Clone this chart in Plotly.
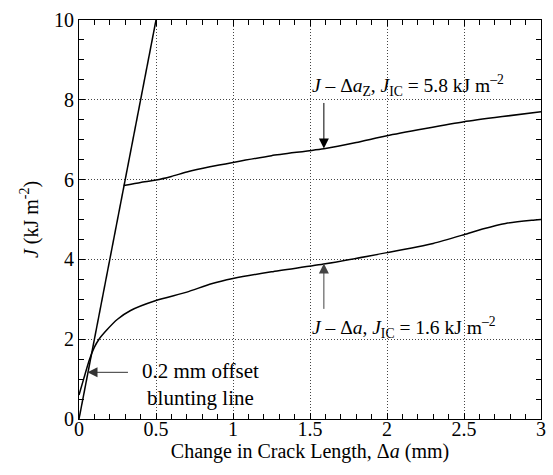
import plotly.graph_objects as go

# Blunting line
blunt_x = [0.0, 0.5]
blunt_y = [0.0, 10.0]

# J - Δa_Z curve
upper_x = [0.29, 0.4, 0.5, 0.6, 0.7, 0.85, 1.0, 1.25, 1.6, 1.8, 2.0, 2.25, 2.5, 2.75, 3.0]
upper_y = [5.85, 5.93, 5.99, 6.08, 6.19, 6.32, 6.43, 6.60, 6.78, 6.93, 7.10, 7.28, 7.45, 7.58, 7.70]

# J - Δa curve
lower_x = [0.0, 0.03, 0.068, 0.1, 0.13, 0.18, 0.25, 0.335, 0.5, 0.7, 0.86, 1.0, 1.25,
           1.6, 2.0, 2.3, 2.5, 2.62, 2.77, 2.94, 3.0]
lower_y = [0.6, 1.0, 1.49, 1.8, 2.0, 2.23, 2.5, 2.72, 2.97, 3.18, 3.39, 3.52, 3.69,
           3.89, 4.17, 4.40, 4.62, 4.76, 4.90, 4.98, 5.0]

x_ticks = [0, 0.5, 1, 1.5, 2, 2.5, 3]
x_ticklabels = ["0", "0.5", "1", "1.5", "2", "2.5", "3"]
y_ticks = [0, 2, 4, 6, 8, 10]
y_ticklabels = ["0", "2", "4", "6", "8", "10"]

FONT = "Liberation Serif"
line_style = dict(color="black", width=1.5)

fig = go.Figure()
fig.add_trace(go.Scatter(x=blunt_x, y=blunt_y, mode="lines", line=line_style, showlegend=False))
fig.add_trace(go.Scatter(x=upper_x, y=upper_y, mode="lines", line=dict(line_style, shape="spline", smoothing=0.6), showlegend=False))
fig.add_trace(go.Scatter(x=lower_x, y=lower_y, mode="lines", line=dict(line_style, shape="spline", smoothing=0.6), showlegend=False))

axis_common = dict(
    showline=True, linecolor="black", linewidth=1, mirror="allticks",
    ticks="inside", ticklen=6, tickcolor="black", tickwidth=1,
    showgrid=True, gridcolor="#444444", griddash="1px,2px", gridwidth=1,
    zeroline=False, tickfont=dict(family=FONT, size=20, color="black"),
)

fig.update_xaxes(
    range=[0, 3], tickvals=x_ticks, ticktext=x_ticklabels,
    minor=dict(dtick=0.1, ticks="inside", ticklen=5, tickcolor="black", showgrid=False),
    title=dict(text="Change in Crack Length, Δ<i>a</i> (mm)", font=dict(family=FONT, size=20, color="black"), standoff=0),
    ticklabelstandoff=-8,
    **axis_common,
)
fig.update_yaxes(
    range=[0, 10], tickvals=y_ticks, ticktext=y_ticklabels,
    minor=dict(dtick=0.5, ticks="inside", ticklen=5, tickcolor="black", showgrid=False),
    title=dict(text="<i>J</i> (kJ m<sup>-2</sup>)", font=dict(family=FONT, size=20, color="black"), standoff=10),
    **axis_common,
)

ann_font = dict(family=FONT, size=19.5, color="black")
fig.add_annotation(x=1.5, y=8.37, xref="x", yref="y", xanchor="left", yanchor="middle",
                   text="<i>J</i> – Δ<i>a</i><sub>Z</sub>, <i>J</i><sub>IC</sub> = 5.8 kJ m<sup>–2</sup>",
                   showarrow=False, font=ann_font)
fig.add_annotation(x=1.59, y=6.78, text="", showarrow=True, ax=0, ay=-47,
                   arrowhead=2, arrowsize=2, arrowwidth=1, arrowcolor="black")
fig.add_annotation(x=1.5, y=2.30, xref="x", yref="y", xanchor="left", yanchor="middle",
                   text="<i>J</i> – Δ<i>a</i>, <i>J</i><sub>IC</sub> = 1.6 kJ m<sup>–2</sup>",
                   showarrow=False, font=ann_font)
fig.add_annotation(x=1.59, y=3.90, text="", showarrow=True, ax=0, ay=47,
                   arrowhead=2, arrowsize=2, arrowwidth=1, arrowcolor="#444444")
fig.add_annotation(x=0.787, y=0.87, xanchor="center", yanchor="middle",
                   text="0.2 mm offset<br>blunting line", showarrow=False,
                   font=dict(family=FONT, size=21, color="black"))
fig.add_annotation(x=0.055, y=1.17, text="", showarrow=True, ax=42, ay=0,
                   arrowhead=2, arrowsize=2, arrowwidth=1, arrowcolor="#333333")

fig.update_layout(
    width=553, height=475,
    margin=dict(l=79, r=7, t=20, b=56),
    paper_bgcolor="white", plot_bgcolor="white",
    font=dict(family=FONT, color="black"),
)

fig.write_html("out.html")
